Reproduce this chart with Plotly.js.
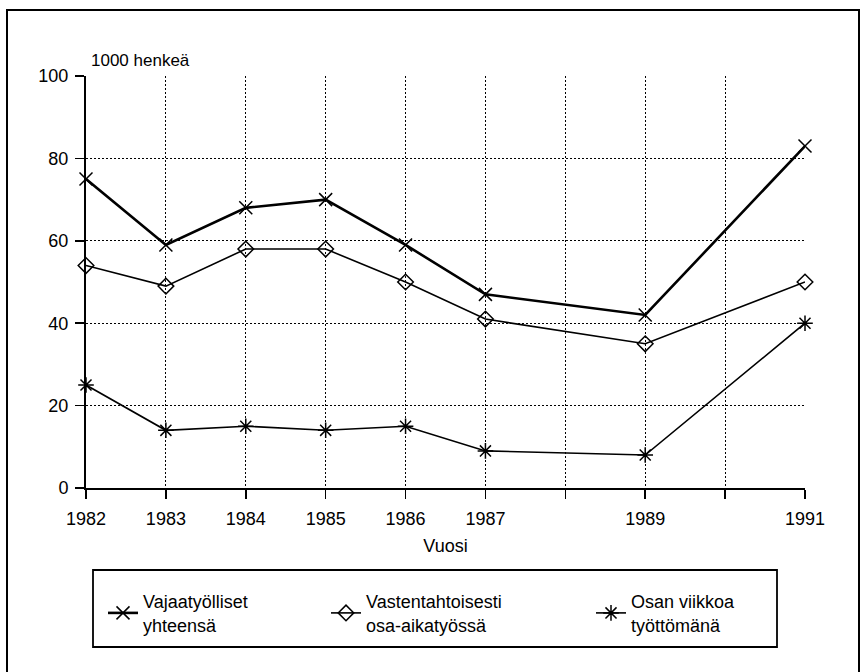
<!DOCTYPE html>
<html>
<head>
<meta charset="utf-8">
<script src="https://cdn.plot.ly/plotly-3.0.1.min.js"></script>
<style>html,body{margin:0;padding:0;background:#fff;}#chart{width:865px;height:672px;}</style>
</head>
<body>
<div id="chart"></div>
<script>
// Data
const years = [1982, 1983, 1984, 1985, 1986, 1987, 1989, 1991];
const vajaatyolliset = [75, 59, 68, 70, 59, 47, 42, 83];
const vastentahtoisesti = [54, 49, 58, 58, 50, 41, 35, 50];
const osanViikkoa = [25, 14, 15, 14, 15, 9, 8, 40];
const seriesNames = ['Vajaatyölliset<br>yhteensä', 'Vastentahtoisesti<br>osa-aikatyössä', 'Osan viikkoa<br>työttömänä'];
const tickYears = [1982, 1983, 1984, 1985, 1986, 1987, 1988, 1989, 1990, 1991];
const tickLabels = ['1982', '1983', '1984', '1985', '1986', '1987', '', '1989', '', '1991'];
const yTicks = [0, 20, 40, 60, 80, 100];

const FONT = 'Liberation Sans, Arial, Helvetica, sans-serif';
// pixel geometry of the plot area
const W = 865, H = 672, L = 86, R = 805, T = 76, B = 488;
const px = x => (x - L) / (R - L);
const py = y => (B - y) / (B - T);
const GRID_DASH = '2px,2px';

const traces = [
  {x: years, y: vajaatyolliset, name: seriesNames[0], type: 'scatter', mode: 'lines+markers', cliponaxis: false,
   line: {color: '#000', width: 2.6}, marker: {symbol: 'x-thin-open', size: 13, color: '#000', line: {color: '#000', width: 1.5}},
   legendwidth: 178},
  {x: years, y: vastentahtoisesti, name: seriesNames[1], type: 'scatter', mode: 'lines+markers', cliponaxis: false,
   line: {color: '#000', width: 1.6}, marker: {symbol: 'diamond-open', size: 12, color: '#000', line: {color: '#000', width: 1.5}},
   legendwidth: 220},
  {x: years, y: osanViikkoa, name: seriesNames[2], type: 'scatter', mode: 'lines+markers', cliponaxis: false,
   line: {color: '#000', width: 1.6}, marker: {symbol: 'asterisk-open', size: 13, color: '#000', line: {color: '#000', width: 1.5}},
   legendwidth: 140}
];

const layout = {
  width: W, height: H,
  margin: {l: L, r: W - R, t: T, b: H - B, pad: 0},
  paper_bgcolor: '#fff', plot_bgcolor: '#fff',
  font: {family: FONT, size: 18, color: '#000'},
  showlegend: true,
  legend: {orientation: 'h', x: px(103), xanchor: 'left', y: py(583), yanchor: 'top',
           bgcolor: 'rgba(0,0,0,0)', borderwidth: 0, font: {family: FONT, size: 18, color: '#000'},
           valign: 'middle', traceorder: 'normal'},
  xaxis: {
    range: [1982, 1991], tickmode: 'array', tickvals: tickYears, ticktext: tickLabels,
    showline: true, linecolor: '#000', linewidth: 2, mirror: false,
    ticks: 'outside', ticklen: 9, tickwidth: 1.5, tickcolor: '#000', ticklabelstandoff: 4,
    showgrid: true, gridcolor: '#000', gridwidth: 1.2, griddash: GRID_DASH,
    zeroline: false, tickfont: {family: FONT, size: 18, color: '#000'},
    title: {text: 'Vuosi', font: {family: FONT, size: 18, color: '#000'}, standoff: 12}
  },
  yaxis: {
    range: [0, 100], tickmode: 'array', tickvals: yTicks,
    showline: true, linecolor: '#000', linewidth: 2,
    ticks: 'outside', ticklen: 9, tickwidth: 1.5, tickcolor: '#000', ticklabelstandoff: 3,
    showgrid: true, gridcolor: '#000', gridwidth: 1.2, griddash: GRID_DASH,
    zeroline: false, tickfont: {family: FONT, size: 18, color: '#000'}
  },
  annotations: [
    {text: '1000 henkeä', xref: 'paper', yref: 'paper', x: px(89), y: py(60), xanchor: 'left', yanchor: 'middle',
     showarrow: false, font: {family: FONT, size: 17, color: '#000'}}
  ],
  shapes: [
    // outer frame
    {type: 'rect', xref: 'paper', yref: 'paper', x0: px(7), x1: px(859), y0: py(676), y1: py(10),
     line: {color: '#000', width: 2}, fillcolor: 'rgba(0,0,0,0)'},
    // legend box
    {type: 'rect', xref: 'paper', yref: 'paper', x0: px(93), x1: px(777), y0: py(647), y1: py(570),
     line: {color: '#000', width: 1.8}, fillcolor: 'rgba(0,0,0,0)'}
  ]
};

Plotly.newPlot('chart', traces, layout, {displayModeBar: false, staticPlot: true});
</script>
</body>
</html>
